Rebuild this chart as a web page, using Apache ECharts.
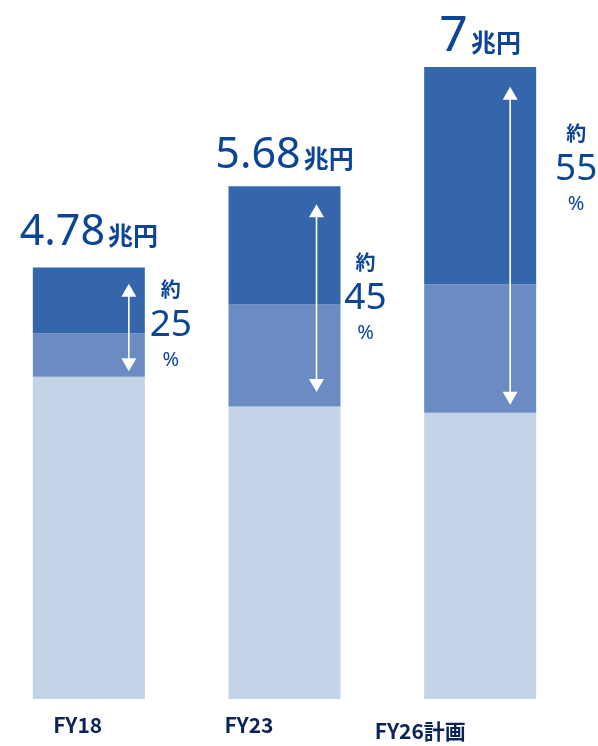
<!DOCTYPE html>
<html><head><meta charset="utf-8">
<script src="https://cdn.jsdelivr.net/npm/echarts@6/dist/echarts.min.js"></script>
<style>html,body{margin:0;padding:0;background:#fff}#c{width:598px;height:746px}</style>
</head><body><div id="c"></div>
<script>
// ---- data ----
const categories = ['FY18', 'FY23', 'FY26計画'];
const baseValues = [3.57, 3.24, 3.17];
const midValues = [0.48, 1.13, 1.42];
const topValues = [0.73, 1.31, 2.41];
const totalLabels = ['4.78', '5.68', '7'];
const arrowLow = [3.63, 3.40, 3.26];
const arrowHigh = [4.60, 5.48, 6.78];
const shareLabels = ['25', '45', '55'];

// ---- styles / offsets ----
const arrowDx = [40, 32, 30];
const shareDx = [26, 25, 40];
const shareDy = [-2, 0, -76];
const totalDist = [13, 9, 5];
const totalSize = [43, 43, 50];
const BLUE = '#0d4596';
const NUMFONT = '"Noto Sans", sans-serif';
const CJK = '"Noto Sans CJK JP", sans-serif';
const barW = 112;

const chart = echarts.init(document.getElementById('c'), null, {renderer: 'canvas'});

const arrowData = categories.map((c, i) => [i, arrowLow[i], arrowHigh[i]]);
const topData = topValues.map((v, i) => ({
  value: v,
  label: {distance: totalDist[i],
    rich: {
      n: {fontSize: totalSize[i], lineHeight: totalSize[i], color: BLUE, fontFamily: NUMFONT},
      u: {fontSize: 25, lineHeight: 25, color: BLUE, fontFamily: CJK, fontWeight: 'bold', verticalAlign: 'bottom', padding: [0, 0, Math.round(totalSize[i] * 0.13), 3]}
    }}
}));

chart.setOption({
  animation: false,
  grid: [
    {left: -9, width: 587, top: 67, bottom: 47, outerBoundsMode: 'none', containLabel: false},
    {left: -8, width: 514, top: 67, bottom: 47, outerBoundsMode: 'none', containLabel: false}
  ],
  xAxis: [
    {type: 'category', data: categories, gridIndex: 0, show: false},
    {type: 'category', gridIndex: 1,
      data: categories.map((c, i) => i === 2 ? {value: c, textStyle: {padding: [6, 0, 0, 0]}} : c),
      axisLine: {show: false}, axisTick: {show: false},
      axisLabel: {margin: 16, fontSize: 21, color: '#0b2458', fontWeight: 'bold',
        fontFamily: '"Liberation Sans Narrow", "Noto Sans CJK JP", sans-serif'}}
  ],
  yAxis: [
    {type: 'value', min: 0, max: 7, gridIndex: 0, show: false},
    {type: 'value', min: 0, max: 7, gridIndex: 1, show: false}
  ],
  series: [
    {type: 'bar', stack: 't', data: baseValues, barWidth: barW, itemStyle: {color: '#c3d3e8'}},
    {type: 'bar', stack: 't', data: midValues, barWidth: barW, itemStyle: {color: '#6a8cc2'}},
    {type: 'bar', stack: 't', data: topData, barWidth: barW, itemStyle: {color: '#3565ab'},
      label: {show: true, position: 'top',
        formatter: p => '{n|' + totalLabels[p.dataIndex] + '}{u|兆円}'}},
    {type: 'custom', data: arrowData, z: 10,
      renderItem: function (params, api) {
        const i = params.dataIndex;
        const cx = api.coord([api.value(0), 0])[0];
        const x = cx + arrowDx[i];
        const yl = api.coord([api.value(0), api.value(1)])[1];
        const yh = api.coord([api.value(0), api.value(2)])[1];
        const hw = 7.5, hh = 13;
        const lx = cx + barW / 2 + shareDx[i];
        const my = (yl + yh) / 2 + shareDy[i];
        return {type: 'group', children: [
          {type: 'line', shape: {x1: x, y1: yh + hh - 1, x2: x, y2: yl - hh + 1}, style: {stroke: '#fff', lineWidth: 1.6}},
          {type: 'polygon', shape: {points: [[x, yh], [x - hw, yh + hh], [x + hw, yh + hh]]}, style: {fill: '#fff'}},
          {type: 'polygon', shape: {points: [[x, yl], [x - hw, yl - hh], [x + hw, yl - hh]]}, style: {fill: '#fff'}},
          {type: 'text', x: lx, y: my - 36, style: {text: '約', font: 'bold 20px ' + CJK, fill: BLUE, align: 'center', verticalAlign: 'middle'}},
          {type: 'text', x: lx, y: my, style: {text: shareLabels[i], font: '37px ' + NUMFONT, fill: BLUE, align: 'center', verticalAlign: 'middle'}},
          {type: 'text', x: lx, y: my + 35, style: {text: '%', font: '20px ' + NUMFONT, fill: BLUE, align: 'center', verticalAlign: 'middle'}}
        ]};
      }}
  ]
});
</script></body></html>
